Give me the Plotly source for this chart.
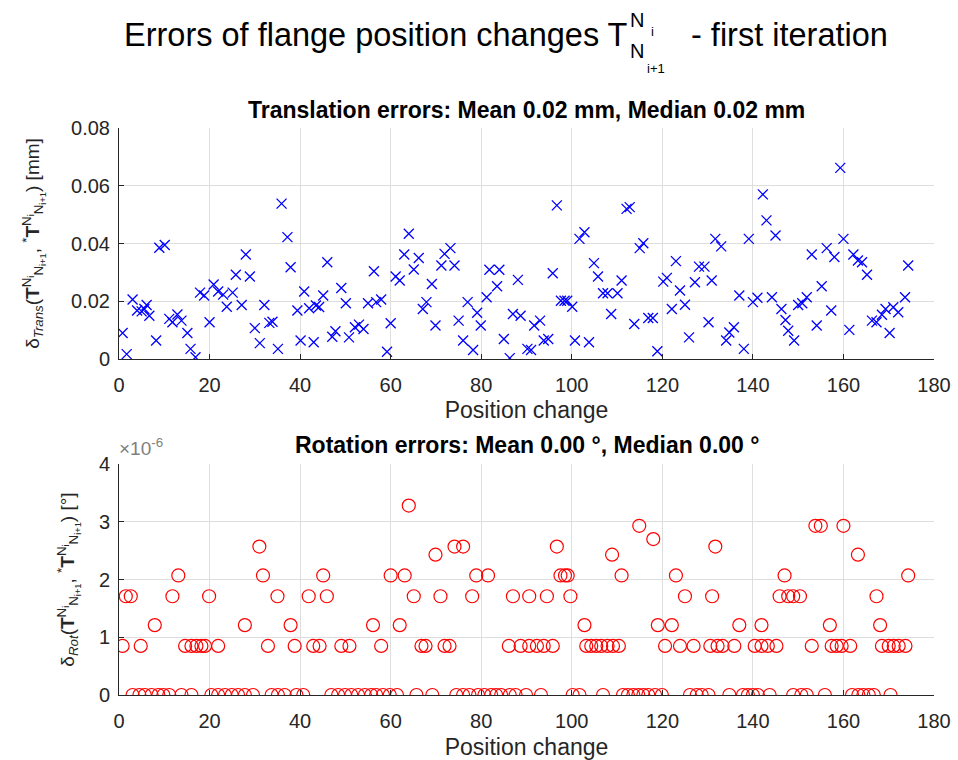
import plotly.graph_objects as go

# ---------------- data ----------------
trans_x = [0.8, 1.7, 3.0, 4.0, 5.0, 5.6, 6.1, 6.7, 8.2, 8.9, 10.1, 11.1, 11.8, 12.9, 13.8, 15.1, 15.8, 16.9,
           17.9, 18.8, 20.0, 20.9, 21.9, 23.0, 23.8, 25.1, 25.8, 27.1, 28.0, 28.9, 30.0, 31.1, 32.1, 33.2,
           33.9, 35.1, 35.9, 37.2, 37.9, 39.4, 40.1, 40.9, 42.0, 43.0, 43.5, 44.2, 45.1, 46.0, 47.1, 47.8,
           49.1, 50.1, 50.8, 52.1, 53.0, 54.0, 55.0, 56.3, 56.8, 57.9, 59.2, 60.0, 61.1, 62.0, 63.0, 64.0,
           65.1, 66.2, 67.1, 67.9, 69.1, 69.9, 71.2, 71.9, 73.2, 74.1, 75.0, 76.0, 77.0, 78.2, 79.1, 79.9,
           81.2, 81.8, 83.5, 84.0, 85.0, 86.3, 87.0, 88.1, 88.7, 90.2, 91.0, 91.7, 93.0, 93.8, 94.8, 95.8,
           96.7, 97.6, 98.4, 99.0, 100.1, 100.7, 101.7, 102.8, 103.8, 104.9, 105.8, 106.9, 107.9, 108.7,
           110.1, 111.0, 112.1, 112.8, 113.8, 115.0, 115.8, 116.9, 117.9, 118.9, 120.2, 121.0, 122.1, 123.0,
           123.9, 125.0, 125.9, 127.2, 128.1, 129.3, 130.2, 130.9, 131.7, 133.0, 134.1, 134.8, 135.8, 137.0,
           138.0, 139.1, 140.0, 141.0, 142.2, 143.0, 144.2, 145.0, 146.3, 147.2, 147.8, 149.1, 150.0, 150.9,
           151.9, 153.0, 154.1, 155.2, 156.3, 157.3, 158.0, 159.3, 160.0, 161.3, 162.2, 163.2, 164.1, 165.2,
           166.3, 167.3, 168.5, 169.3, 170.2, 171.0, 172.1, 173.6, 174.3]
trans_err = [0.0090, 0.0017, 0.0206, 0.0168, 0.0165, 0.0173, 0.0187, 0.0150, 0.0064, 0.0385, 0.0395, 0.0139,
             0.0127, 0.0154, 0.0133, 0.0090, 0.0035, 0.0006, 0.0230, 0.0220, 0.0127, 0.0258, 0.0234, 0.0223,
             0.0181, 0.0230, 0.0292, 0.0187, 0.0362, 0.0286, 0.0107, 0.0055, 0.0187, 0.0125, 0.0129, 0.0035,
             0.0538, 0.0422, 0.0318, 0.0168, 0.0064, 0.0234, 0.0176, 0.0058, 0.0185, 0.0180, 0.0220, 0.0335,
             0.0077, 0.0096, 0.0246, 0.0193, 0.0075, 0.0110, 0.0119, 0.0104, 0.0193, 0.0304, 0.0197, 0.0206,
             0.0025, 0.0124, 0.0286, 0.0272, 0.0362, 0.0434, 0.0310, 0.0350, 0.0173, 0.0197, 0.0260, 0.0116,
             0.0324, 0.0364, 0.0384, 0.0324, 0.0133, 0.0064, 0.0197, 0.0031, 0.0160, 0.0116, 0.0214, 0.0309,
             0.0252, 0.0309, 0.0069, 0.0003, 0.0156, 0.0274, 0.0150, 0.0035, 0.0031, 0.0116, 0.0133, 0.0064,
             0.0069, 0.0297, 0.0532, 0.0202, 0.0202, 0.0202, 0.0181, 0.0064, 0.0416, 0.0439, 0.0058, 0.0332,
             0.0286, 0.0228, 0.0228, 0.0156, 0.0228, 0.0272, 0.0520, 0.0526, 0.0121, 0.0384, 0.0401, 0.0142,
             0.0142, 0.0027, 0.0268, 0.0281, 0.0173, 0.0339, 0.0237, 0.0188, 0.0075, 0.0266, 0.0320, 0.0320,
             0.0127, 0.0272, 0.0416, 0.0390, 0.0064, 0.0092, 0.0110, 0.0220, 0.0035, 0.0416, 0.0197, 0.0212,
             0.0570, 0.0480, 0.0214, 0.0428, 0.0173, 0.0135, 0.0098, 0.0064, 0.0187, 0.0193, 0.0214, 0.0362,
             0.0116, 0.0252, 0.0384, 0.0168, 0.0353, 0.0662, 0.0416, 0.0101, 0.0362, 0.0341, 0.0335, 0.0292,
             0.0133, 0.0127, 0.0153, 0.0173, 0.0090, 0.0179, 0.0162, 0.0214, 0.0324]

# rotation errors, in units of 1e-6 degrees
rot_x = [0.8, 1.5, 2.6, 3.0, 4.5, 4.8, 5.7, 7.2, 7.9, 8.7, 9.8, 11.1, 11.8, 13.1, 13.8, 14.6, 16.0, 16.0,
         17.1, 18.2, 19.0, 19.9, 20.4, 21.9, 21.9, 23.4, 24.9, 26.3, 27.8, 27.8, 29.6, 31.0, 31.8, 32.9,
         33.7, 35.0, 35.1, 36.6, 37.9, 38.8, 39.2, 40.7, 41.9, 42.9, 44.3, 45.1, 45.9, 46.9, 48.4, 49.1,
         49.9, 50.9, 51.3, 52.8, 54.3, 55.7, 56.1, 56.8, 57.9, 58.3, 59.8, 60.0, 61.4, 62.0, 63.1, 64.0,
         65.1, 65.7, 66.8, 67.7, 69.2, 69.9, 71.0, 71.9, 73.0, 74.1, 74.5, 76.0, 76.0, 77.4, 78.0, 78.9,
         79.3, 80.7, 81.5, 82.2, 83.3, 84.4, 86.1, 86.3, 87.0, 87.6, 88.7, 89.9, 90.6, 90.6, 92.3, 93.2,
         93.8, 94.5, 95.8, 96.7, 97.5, 98.5, 99.1, 99.7, 100.2, 101.7, 102.8, 103.2, 104.3, 105.4, 106.5,
         106.9, 107.9, 108.9, 109.1, 110.4, 111.0, 111.3, 112.4, 113.6, 114.7, 114.9, 115.8, 116.9, 118.0,
         118.4, 119.0, 119.9, 120.6, 122.1, 123.0, 123.9, 125.0, 126.1, 126.9, 127.6, 128.7, 130.2, 130.6,
         131.0, 131.7, 132.2, 133.3, 134.8, 135.9, 137.0, 137.8, 138.9, 140.0, 140.4, 141.1, 141.9, 141.9,
         143.3, 143.7, 145.2, 145.9, 147.0, 147.8, 148.9, 148.9, 150.4, 150.7, 151.9, 153.0, 153.8, 155.0,
         155.9, 157.0, 157.4, 158.5, 159.6, 160.0, 161.5, 161.9, 163.2, 163.3, 164.4, 165.6, 166.7, 167.3,
         168.1, 168.5, 170.0, 170.4, 171.1, 172.2, 173.7, 174.3]
rot_err_e6 = [0.85, 1.71, 1.71, 0, 0, 0.85, 0, 0, 1.21, 0, 0, 0, 1.71, 2.07, 0, 0.85, 0, 0.85,
              0.85, 0.85, 0.85, 1.71, 0, 0.85, 0, 0, 0, 0, 1.21, 0, 0, 2.57, 2.07, 0.85,
              0, 1.71, 0, 0, 1.21, 0.85, 0, 0, 1.71, 0.85, 0.85, 2.07, 1.71, 0, 0, 0.85,
              0, 0.85, 0, 0, 0, 0, 1.21, 0, 0.85, 0, 0, 2.07, 0, 1.21, 2.07, 3.28,
              1.71, 0, 0.85, 0.85, 0, 2.43, 1.71, 0.85, 0.85, 2.57, 0, 2.57, 0, 0, 1.71, 2.07,
              0, 0, 2.07, 0, 0, 0, 0.85, 0, 1.71, 0, 0.85, 0, 1.71, 0.85, 0.85, 0,
              0.85, 1.71, 0.85, 2.57, 2.07, 2.07, 2.07, 1.71, 0, 0, 1.21, 0.85, 0.85, 0.85, 0.85,
              0, 0.85, 2.43, 0.85, 0.85, 2.07, 0, 0, 0, 0, 2.93, 0, 0, 2.70,
              0, 1.21, 0, 0.85, 1.21, 2.07, 0.85, 1.71, 0, 0.85, 0, 0, 0, 0.85,
              1.71, 2.57, 0.85, 0.85, 0, 0.85, 1.21, 0, 0, 0, 0.85, 0, 1.21, 0.85,
              0.85, 0, 0.85, 1.71, 2.07, 1.71, 1.71, 0, 1.71, 0, 0, 0.85, 2.93, 2.93,
              0, 1.21, 0.85, 0.85, 0.85, 2.93, 0.85, 0, 2.43, 0, 0, 0, 0, 1.71,
              1.21, 0.85, 0.85, 0, 0.85, 0.85, 0.85, 2.07]

x_ticks = [0, 20, 40, 60, 80, 100, 120, 140, 160, 180]
trans_ticks = [0, 0.02, 0.04, 0.06, 0.08]
trans_tick_labels = ["0", "0.02", "0.04", "0.06", "0.08"]
rot_ticks = [0, 1, 2, 3, 4]
rot_tick_labels = ["0", "1", "2", "3", "4"]

main_title = "Errors of flange position changes T"
main_title_tail = "- first iteration"
trans_title = "Translation errors: Mean 0.02 mm, Median 0.02 mm"
rot_title = "Rotation errors: Mean 0.00 °, Median 0.00 °"
x_label = "Position change"
trans_ylabel = ("δ<sub><i>Trans</i></sub>(<b>T</b><sup>N<sub>i</sub></sup><sub>N<sub>i+1</sub></sub>, "
                "<sup>*</sup><b>T</b><sup>N<sub>i</sub></sup><sub>N<sub>i+1</sub></sub>) [mm]")
rot_ylabel = ("δ<sub><i>Rot</i></sub>(<b>T</b><sup>N<sub>i</sub></sup><sub>N<sub>i+1</sub></sub>, "
              "<sup>*</sup><b>T</b><sup>N<sub>i</sub></sup><sub>N<sub>i+1</sub></sub>) [°]")

# ---------------- figure ----------------
FONT = "Liberation Sans, Arial, Helvetica, sans-serif"
INK = "#262626"
GRID = "#dedede"
W, H = 958, 760
# plot area in window pixels: x 119..934, y 128..695
ML, MT = 119, 128
MR = W - 934
MB = H - 695
PW, PH = 934 - 119, 695 - 128


def px(xp):
    return (xp - 119) / PW


def py(yp):
    return (695 - yp) / PH


fig = go.Figure()
fig.add_trace(go.Scatter(x=trans_x, y=trans_err, mode="markers", xaxis="x", yaxis="y",
                         marker=dict(symbol="x-thin-open", size=10, color="#0000ff",
                                     line=dict(color="#0000ff", width=1.3)),
                         showlegend=False))
fig.add_trace(go.Scatter(x=rot_x, y=rot_err_e6, mode="markers", xaxis="x2", yaxis="y2",
                         marker=dict(symbol="circle-open", size=13, color="#ff0000",
                                     line=dict(color="#ff0000", width=1.2)),
                         showlegend=False))

axis_common = dict(showgrid=True, gridcolor=GRID, gridwidth=1, zeroline=False,
                   showline=True, linecolor=INK, linewidth=1, mirror=False,
                   ticks="inside", ticklen=5, tickcolor=INK, tickwidth=1, automargin=False,
                   tickfont=dict(family=FONT, size=20, color=INK))

top_dom = [py(359), 1.0]
bot_dom = [0.0, py(464)]

fig.update_layout(
    width=W, height=H, autosize=False,
    margin=dict(l=ML, r=MR, t=MT, b=MB),
    paper_bgcolor="white", plot_bgcolor="white",
    font=dict(family=FONT, color=INK),
    xaxis=dict(domain=[0, 1], range=[0, 180], tickvals=x_ticks, anchor="y", ticklabelstandoff=8,
               title=dict(text=x_label, font=dict(family=FONT, size=23, color=INK), standoff=6),
               **axis_common),
    yaxis=dict(domain=top_dom, range=[0, 0.08], tickvals=trans_ticks, ticktext=trans_tick_labels,
               anchor="x", ticklabelstandoff=4,
               title=dict(text=trans_ylabel, font=dict(family=FONT, size=19, color=INK), standoff=26),
               **axis_common),
    xaxis2=dict(domain=[0, 1], range=[0, 180], tickvals=x_ticks, anchor="y2", ticklabelstandoff=8,
                title=dict(text=x_label, font=dict(family=FONT, size=23, color=INK), standoff=7),
                **axis_common),
    yaxis2=dict(domain=bot_dom, range=[0, 4], tickvals=rot_ticks, ticktext=rot_tick_labels,
                anchor="x2", ticklabelstandoff=4,
                title=dict(text=rot_ylabel, font=dict(family=FONT, size=19, color=INK), standoff=19),
                **axis_common),
)

ann = []
ann.append(dict(text=main_title, x=px(122), y=py(35), xref="paper", yref="paper",
                xanchor="left", yanchor="middle", showarrow=False,
                font=dict(family=FONT, size=32.5, color="#000000")))
ann.append(dict(text="N", x=px(628), y=py(20), xref="paper", yref="paper",
                xanchor="left", yanchor="middle", showarrow=False,
                font=dict(family=FONT, size=20, color="#000000")))
ann.append(dict(text="i", x=px(649), y=py(31), xref="paper", yref="paper",
                xanchor="left", yanchor="middle", showarrow=False,
                font=dict(family=FONT, size=13, color="#000000")))
ann.append(dict(text="N", x=px(628), y=py(51), xref="paper", yref="paper",
                xanchor="left", yanchor="middle", showarrow=False,
                font=dict(family=FONT, size=20, color="#000000")))
ann.append(dict(text="i+1", x=px(645), y=py(69), xref="paper", yref="paper",
                xanchor="left", yanchor="middle", showarrow=False,
                font=dict(family=FONT, size=13, color="#000000")))
ann.append(dict(text=main_title_tail, x=px(689), y=py(35), xref="paper", yref="paper",
                xanchor="left", yanchor="middle", showarrow=False,
                font=dict(family=FONT, size=32.5, color="#000000")))
ann.append(dict(text="<b>" + trans_title + "</b>", x=0.5, y=py(110), xref="paper", yref="paper",
                xanchor="center", yanchor="middle", showarrow=False,
                font=dict(family=FONT, size=23, color="#000000")))
ann.append(dict(text="<b>" + rot_title + "</b>", x=0.5, y=py(445), xref="paper", yref="paper",
                xanchor="center", yanchor="middle", showarrow=False,
                font=dict(family=FONT, size=23, color="#000000")))
ann.append(dict(text="×10<sup>-6</sup>", x=px(117), y=py(447), xref="paper", yref="paper",
                xanchor="left", yanchor="middle", showarrow=False,
                font=dict(family=FONT, size=19, color="#7f7f7f")))
fig.update_layout(annotations=ann)

# remove the browser's default 8px page margin so the figure sits at the window's corner
fig.write_html("out.html", config={"displayModeBar": False},
               post_script="document.body.style.margin='0';document.body.style.overflow='hidden';")
